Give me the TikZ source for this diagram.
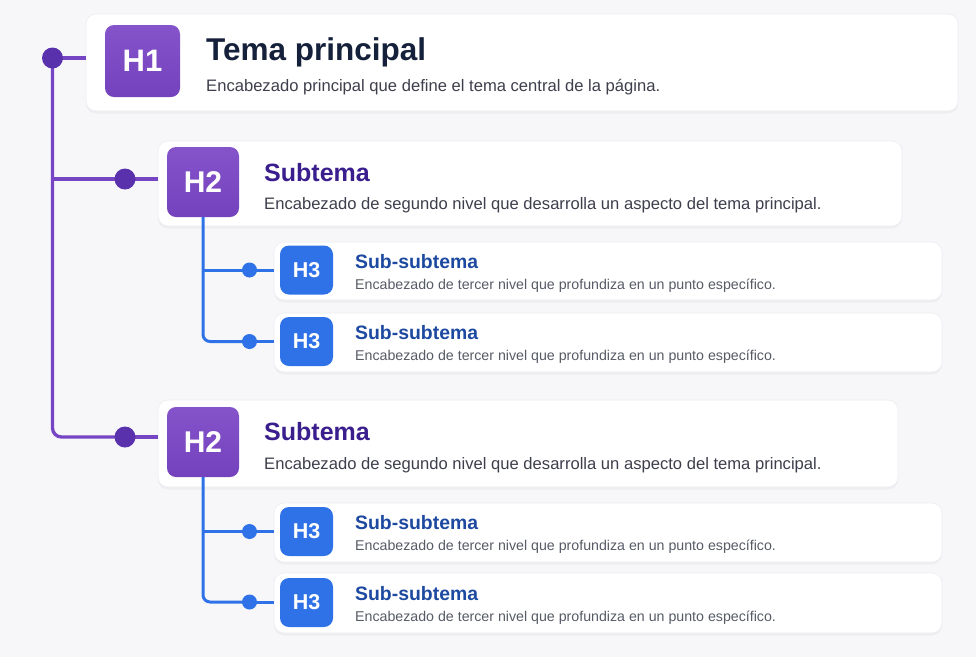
\documentclass[tikz,border=0pt]{standalone}
\usepackage{fontspec}
\setmainfont{Liberation Sans}
\usetikzlibrary{shadows}
\definecolor{bgc}{HTML}{F7F7FA}
\definecolor{cardline}{HTML}{ECECF1}
\definecolor{purp}{HTML}{7A45C6}
\definecolor{purpline}{HTML}{7645C4}
\definecolor{purpdot}{HTML}{5A31AC}
\definecolor{blu}{HTML}{2F72E8}
\definecolor{tnavy}{HTML}{15203A}
\definecolor{tindigo}{HTML}{3A1E8E}
\definecolor{tblue}{HTML}{1D4AA0}
\definecolor{subg}{HTML}{3E3F4C}
\definecolor{subg3}{HTML}{565B66}
\pgfdeclarelayer{fg}
\pgfsetlayers{main,fg}
\tikzset{
  card/.style={draw=cardline, line width=0.6pt, fill=white, rounded corners=10pt,
    drop shadow={opacity=0.07, shadow xshift=0pt, shadow yshift=-2.5pt}, inner sep=0pt},
  badge/.style={rounded corners=9pt, inner sep=0pt, text=white, font=\bfseries},
  pbadge/.style={badge, top color=purp!92!white, bottom color=purp!95!black},
  bbadge/.style={badge, fill=blu},
  pline/.style={draw=purpline, line width=3.3pt},
  bline/.style={draw=blu, line width=3pt},
  pdot/.style={circle, fill=purpdot, inner sep=0pt, minimum size=21pt},
  bdot/.style={circle, fill=blu, inner sep=0pt, minimum size=15pt},
  ttl/.style={anchor=base west, inner sep=0pt},
}
\begin{document}
\begin{tikzpicture}[x=1pt,y=-1pt]
\fill[bgc] (0,0) rectangle (976,657);
\useasboundingbox (0,0) rectangle (976,657);

% cards
\node[card, minimum width=872pt, minimum height=97pt] (c1) at (522,62.5) {};
\node[card, minimum width=744pt, minimum height=85pt] (c2) at (530,183.5) {};
\node[card, minimum width=668pt, minimum height=58pt] (s1) at (608,271) {};
\node[card, minimum width=668pt, minimum height=59pt] (s2) at (608,342.5) {};
\node[card, minimum width=740pt, minimum height=87pt] (c3) at (528,443.5) {};
\node[card, minimum width=668pt, minimum height=59pt] (s3) at (608,532.5) {};
\node[card, minimum width=668pt, minimum height=60pt] (s4) at (608,603) {};

% badges
\node[pbadge, minimum width=75pt, minimum height=72pt, font=\bfseries\fontsize{31}{33}\selectfont] (b1) at (142.5,61) {H1};
\node[pbadge, minimum width=72pt, minimum height=70pt, font=\bfseries\fontsize{30}{32}\selectfont] (b2) at (203,182) {H2};
\node[pbadge, minimum width=72pt, minimum height=70pt, font=\bfseries\fontsize{30}{32}\selectfont] (b3) at (203,442) {H2};
\node[bbadge, minimum width=53pt, minimum height=49pt, font=\bfseries\fontsize{21.5}{24}\selectfont] (h1) at (306.5,270) {H3};
\node[bbadge, minimum width=53pt, minimum height=49pt, font=\bfseries\fontsize{21.5}{24}\selectfont] (h2) at (306.5,341.5) {H3};
\node[bbadge, minimum width=53pt, minimum height=49pt, font=\bfseries\fontsize{21.5}{24}\selectfont] (h3) at (306.5,531.5) {H3};
\node[bbadge, minimum width=53pt, minimum height=49pt, font=\bfseries\fontsize{21.5}{24}\selectfont] (h4) at (306.5,602.5) {H3};

% texts
\node[ttl, text=tnavy, font=\bfseries\fontsize{31.5}{34}\selectfont] (t1) at (206,60) {Tema principal};
\node[ttl, text=subg, font=\fontsize{16.6}{19}\selectfont] (u1) at (206,91) {Encabezado principal que define el tema central de la página.};

\node[ttl, text=tindigo, font=\bfseries\fontsize{25}{28}\selectfont] (t2) at (264,181) {Subtema};
\node[ttl, text=subg, font=\fontsize{16.6}{19}\selectfont] (u2) at (264,209) {Encabezado de segundo nivel que desarrolla un aspecto del tema principal.};
\node[ttl, text=tindigo, font=\bfseries\fontsize{25}{28}\selectfont] (t3) at (264,440) {Subtema};
\node[ttl, text=subg, font=\fontsize{16.6}{19}\selectfont] (u3) at (264,469) {Encabezado de segundo nivel que desarrolla un aspecto del tema principal.};

\foreach \n/\yy in {1/268,2/339,3/529,4/600}{
  \node[ttl, text=tblue, font=\bfseries\fontsize{19.4}{22}\selectfont] (st\n) at (355,\yy) {Sub-subtema};
  \node[ttl, text=subg3, font=\fontsize{14.2}{16}\selectfont] (su\n) at (355,\yy+21.5) {Encabezado de tercer nivel que profundiza en un punto específico.};
}

% dots (on top layer)
\begin{pgfonlayer}{fg}
\node[pdot] (d1) at (52.5,58) {};
\node[pdot] (d2) at (125,179) {};
\node[pdot] (d3) at (125,437) {};
\node[bdot] (e1) at (249.5,270) {};
\node[bdot] (e2) at (249.5,341.5) {};
\node[bdot] (e3) at (249.5,531.5) {};
\node[bdot] (e4) at (249.5,602) {};
\end{pgfonlayer}

% purple connectors
\draw[pline, rounded corners=9pt] (d1.center) |- (d3.center);
\draw[pline] (d1.center |- d2.center) -- (d2.center);
\draw[pline] (d1.center) -- (d1.center -| c1.west);
\draw[pline] (d2.center) -- (d2.center -| c2.west);
\draw[pline] (d3.center) -- (d3.center -| c3.west);

% blue connectors
\draw[bline, rounded corners=7pt] (b2.south) |- (e2.center);
\draw[bline] (b2.south |- e1.center) -- (e1.center);
\draw[bline, rounded corners=7pt] (b3.south) |- (e4.center);
\draw[bline] (b3.south |- e3.center) -- (e3.center);
\draw[bline] (e1.center) -- (s1.west |- e1.center);
\draw[bline] (e2.center) -- (s2.west |- e2.center);
\draw[bline] (e3.center) -- (s3.west |- e3.center);
\draw[bline] (e4.center) -- (s4.west |- e4.center);
\end{tikzpicture}
\end{document}
